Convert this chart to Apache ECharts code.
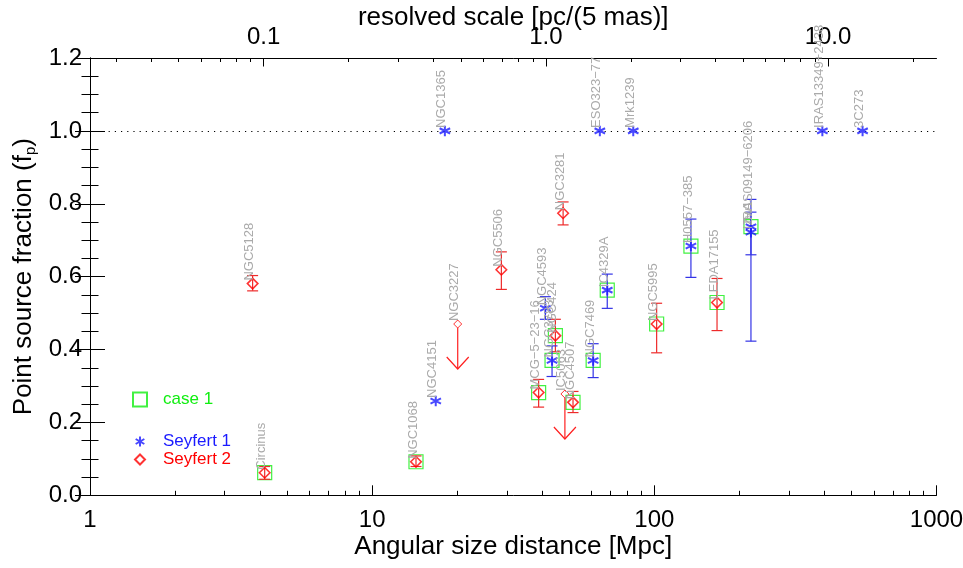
<!DOCTYPE html>
<html><head><meta charset="utf-8">
<script src="https://cdn.jsdelivr.net/npm/echarts@6/dist/echarts.min.js"></script>
<style>html,body{margin:0;padding:0;background:#fff}#c{width:963px;height:568px}</style>
</head><body><div id="c"></div><script>
// ---------- data ----------
// Seyfert 1 (blue asterisks)
const sy1Names = ['NGC4151','NGC1365','NGC4593','NGC3783','NGC7469','ESO323\u221277','IC4329A','Mrk1239','H0557\u2212385','IRAS09149\u22126206','IZw1','IRAS13349+2438','3C273'];
const sy1Dist  = [16.8, 18.1, 41.1, 43.4, 60.7, 64.1, 68.1, 84.2, 134.8, 220, 220, 394, 547];
const sy1Fp    = [0.259, 1.0, 0.513, 0.370, 0.370, 1.0, 0.563, 1.0, 0.684, 0.737, 0.722, 1.0, 1.0];
const sy1Lo    = [null, null, 0.483, 0.326, 0.323, null, 0.513, null, 0.598, 0.660, 0.423, null, null];
const sy1Hi    = [null, null, 0.545, 0.410, 0.416, null, 0.607, null, 0.758, 0.777, 0.812, null, null];
// Seyfert 2 (red diamonds)
const sy2Names = ['Circinus','NGC5128','NGC1068','NGC5506','MCG\u22125\u221223\u221216','NGC424','NGC3281','NGC4507','NGC5995','LEDA17155'];
const sy2Dist  = [4.16, 3.77, 14.3, 28.7, 38.9, 44.6, 47.5, 51.5, 101.9, 166.8];
const sy2Fp    = [0.062, 0.581, 0.092, 0.619, 0.282, 0.438, 0.774, 0.255, 0.470, 0.529];
const sy2Lo    = [0.044, 0.561, 0.079, 0.565, 0.242, 0.394, 0.742, 0.227, 0.391, 0.452];
const sy2Hi    = [0.079, 0.603, 0.108, 0.668, 0.318, 0.483, 0.805, 0.285, 0.527, 0.595];
// Seyfert 2 upper limits
const limNames = ['NGC3227','IC5063'];
const limDist  = [20.1, 48.2];
const limFp    = [0.470, 0.278];
// "case 1" objects (green squares)
const case1Names = ['Circinus','NGC1068','MCG\u22125\u221223\u221216','NGC424','NGC3783','NGC4507','NGC7469','IC4329A','NGC5995','H0557\u2212385','LEDA17155','IRAS09149\u22126206'];
// axis ticks
const bottomMajor  = [1, 10, 100, 1000];
const bottomLabels = ['1', '10', '100', '1000'];
const topMajor     = [0.1, 1, 10];
const topLabels    = ['0.1', '1.0', '10.0'];
const dRange = [1, 1000];
// ---------- helpers ----------
const PC_PER_MPC = 1e6 * 0.005 / 206264.806; // pc per 5 mas per Mpc
const lg = Math.log10;
function minorOf(lo, hi) {
  const out = [];
  for (let e = Math.floor(lg(lo)) - 1; e <= Math.ceil(lg(hi)); e++) {
    for (let m = 2; m <= 9; m++) { const v = m * Math.pow(10, e); if (v > lo && v < hi) out.push(lg(v)); }
  }
  return out;
}
const topMin = lg(dRange[0] * PC_PER_MPC), topMax = lg(dRange[1] * PC_PER_MPC);
function lookup(n) {
  let i = sy1Names.indexOf(n); if (i >= 0) return [lg(sy1Dist[i]), sy1Fp[i]];
  i = sy2Names.indexOf(n); return [lg(sy2Dist[i]), sy2Fp[i]];
}
const FONT = '"Liberation Sans", Arial, Helvetica, sans-serif';
const RED = '#ff0000', BLUE = '#1a1aff', GREEN = '#11ee11';
const starPath = 'path://M0,-10L0,10M-8.66,-5L8.66,5M-8.66,5L8.66,-5';

const sy1Data = sy1Dist.map((d, i) => [lg(d), sy1Fp[i]]);
const sy2Data = sy2Dist.map((d, i) => [lg(d), sy2Fp[i]]);
const limData = limDist.map((d, i) => [lg(d), limFp[i]]);
const case1Data = case1Names.map(lookup);
const err1 = sy1Dist.map((d, i) => [lg(d), sy1Lo[i], sy1Hi[i]]).filter(r => r[1] != null);
const err2 = sy2Dist.map((d, i) => [lg(d), sy2Lo[i], sy2Hi[i]]);
const labelNames = sy1Names.concat(sy2Names, limNames);
const labelData = sy1Data.concat(sy2Data, limData);

function errRender(color) {
  return function (params, api) {
    const x = api.value(0);
    const a = api.coord([x, api.value(1)]), b = api.coord([x, api.value(2)]);
    const w = 5.5, st = { stroke: color, lineWidth: 1.2 };
    return { type: 'group', children: [
      { type: 'line', shape: { x1: a[0], y1: a[1], x2: b[0], y2: b[1] }, style: st },
      { type: 'line', shape: { x1: a[0] - w, y1: a[1], x2: a[0] + w, y2: a[1] }, style: st },
      { type: 'line', shape: { x1: b[0] - w, y1: b[1], x2: b[0] + w, y2: b[1] }, style: st }
    ] };
  };
}

const axisText = { color: '#000', fontSize: 24, fontFamily: FONT };
const nameText = { color: '#000', fontSize: 26, fontFamily: FONT };
const chart = echarts.init(document.getElementById('c'), null, { renderer: 'canvas' });
chart.setOption({
  animation: false,
  backgroundColor: '#fff',
  grid: { left: 90, right: 26.5, top: 58, bottom: 72.7, containLabel: false, outerBoundsMode: 'none' },
  legend: [
    { data: [{ name: 'case 1', icon: 'rect', textStyle: { color: GREEN } }],
      left: 132, top: 391, padding: 0, itemWidth: 14, itemHeight: 14, selectedMode: false,
      textStyle: { fontSize: 17, fontFamily: FONT, padding: [0, 0, 0, 11] } },
    { data: [{ name: 'Seyfert 1', textStyle: { color: BLUE } }, { name: 'Seyfert 2', textStyle: { color: RED } }],
      orient: 'vertical', left: 134, top: 433, padding: 0, itemWidth: 10, itemHeight: 10, itemGap: 1, selectedMode: false,
      textStyle: { fontSize: 17, fontFamily: FONT, padding: [0, 0, 0, 13] } }
  ],
  xAxis: [
    { type: 'value', position: 'bottom', min: lg(dRange[0]), max: lg(dRange[1]),
      axisLine: { lineStyle: { color: '#000', width: 1 } },
      axisTick: { inside: true, length: 10, lineStyle: { color: '#000' }, customValues: bottomMajor.map(lg) },
      axisLabel: { customValues: bottomMajor.map(lg), margin: 13, ...axisText,
        formatter: v => bottomLabels[bottomMajor.findIndex(m => Math.abs(lg(m) - v) < 1e-6)] || '' },
      splitLine: { show: false },
      name: 'Angular size distance [Mpc]', nameLocation: 'middle', nameGap: 39, nameMoveOverlap: false, nameTextStyle: { ...nameText } },
    { type: 'value', position: 'bottom', min: lg(dRange[0]), max: lg(dRange[1]),
      axisLine: { show: false },
      axisTick: { inside: true, length: 4.5, lineStyle: { color: '#000' }, customValues: minorOf(dRange[0], dRange[1]) },
      axisLabel: { show: false }, splitLine: { show: false } },
    { type: 'value', position: 'top', min: topMin, max: topMax,
      axisLine: { lineStyle: { color: '#000', width: 1 } },
      axisTick: { inside: true, length: 8.5, lineStyle: { color: '#000' }, customValues: topMajor.map(lg) },
      axisLabel: { customValues: topMajor.map(lg), margin: 9, ...axisText,
        formatter: v => topLabels[topMajor.findIndex(m => Math.abs(lg(m) - v) < 1e-6)] || '' },
      splitLine: { show: false },
      name: 'resolved scale [pc/(5 mas)]', nameLocation: 'middle', nameGap: 27, nameMoveOverlap: false, nameTextStyle: { ...nameText } },
    { type: 'value', position: 'top', min: topMin, max: topMax,
      axisLine: { show: false },
      axisTick: { inside: true, length: 4, lineStyle: { color: '#000' }, customValues: minorOf(Math.pow(10, topMin), Math.pow(10, topMax)) },
      axisLabel: { show: false }, splitLine: { show: false } }
  ],
  yAxis: [
    { type: 'value', position: 'left', min: 0, max: 1.2, interval: 0.2,
      axisLine: { show: true, lineStyle: { color: '#000', width: 1 } },
      axisTick: { show: true, inside: true, length: 15, lineStyle: { color: '#000' } },
      minorTick: { show: true, splitNumber: 4, length: 8.5, lineStyle: { color: '#000' } },
      axisLabel: { margin: 8, ...axisText, formatter: v => v.toFixed(1) },
      splitLine: { show: false }, minorSplitLine: { show: false },
      name: 'Point source fraction (f{sub|p})', nameLocation: 'middle', nameRotate: 90, nameGap: 52, nameMoveOverlap: false,
      nameTextStyle: { ...nameText, rich: { sub: { fontSize: 15, fontFamily: FONT, color: '#000', verticalAlign: 'bottom', padding: [13, 0, 0, 0] } } } },
    { type: 'value', position: 'right', min: 0, max: 1.2, interval: 0.2,
      axisLine: { show: true, lineStyle: { color: '#000', width: 1 } },
      axisTick: { show: true, inside: true, length: 15, lineStyle: { color: '#000' } },
      minorTick: { show: true, splitNumber: 4, length: 8.5, lineStyle: { color: '#000' } },
      axisLabel: { show: false }, splitLine: { show: false } }
  ],
  series: [
    { name: 'case 1', type: 'scatter', data: case1Data, symbol: 'rect', symbolSize: 14, z: 2,
      itemStyle: { color: 'rgba(0,0,0,0)', borderColor: GREEN, borderWidth: 1.2 } },
    { type: 'custom', data: err2, renderItem: errRender('#ee2a2a'), encode: { x: 0, y: [1, 2] }, z: 3, silent: true },
    { type: 'custom', data: err1, renderItem: errRender('#3333e6'), encode: { x: 0, y: [1, 2] }, z: 3, silent: true },
    { name: 'Seyfert 2', type: 'scatter', data: sy2Data, symbol: 'diamond', symbolSize: 10.5, z: 4,
      itemStyle: { color: 'rgba(0,0,0,0)', borderColor: RED, borderWidth: 1.6 } },
    { name: 'Seyfert 2 limit', type: 'scatter', data: limData, symbol: 'diamond', symbolSize: 8, z: 4,
      itemStyle: { color: 'rgba(0,0,0,0)', borderColor: RED, borderWidth: 1 } },
    { type: 'custom', data: limData, z: 3, silent: true, encode: { x: 0, y: 1 },
      renderItem: (params, api) => {
        const p = api.coord([api.value(0), api.value(1)]);
        const L = 45, ax = 11, ay = 12, st = { stroke: '#ff2020', lineWidth: 1.2, fill: 'none' };
        return { type: 'group', children: [
          { type: 'line', shape: { x1: p[0], y1: p[1] + 4, x2: p[0], y2: p[1] + L }, style: st },
          { type: 'polyline', shape: { points: [[p[0] - ax, p[1] + L - ay], [p[0], p[1] + L], [p[0] + ax, p[1] + L - ay]] }, style: st }
        ] };
      } },
    { name: 'Seyfert 1', type: 'scatter', data: sy1Data, symbol: starPath, symbolSize: 10.5, z: 5,
      itemStyle: { color: 'rgba(0,0,0,0)', borderColor: BLUE, borderWidth: 2 },
      markLine: { silent: true, symbol: 'none', label: { show: false },
        lineStyle: { color: '#000', type: [1.2, 5], width: 1 }, data: [{ yAxis: 1.0 }] } },
    { type: 'custom', data: labelData, z: 6, silent: true, encode: { x: 0, y: 1 },
      renderItem: (params, api) => {
        const p = api.coord([api.value(0), api.value(1)]);
        return { type: 'text', x: p[0] + 3.5, y: p[1] - 3, rotation: Math.PI / 2,
          style: { text: labelNames[params.dataIndex], fill: '#aaaaaa', font: '13px ' + FONT,
            align: 'left', verticalAlign: 'bottom', textAlign: 'left', textVerticalAlign: 'bottom' } };
      } }
  ]
});
</script></body></html>
